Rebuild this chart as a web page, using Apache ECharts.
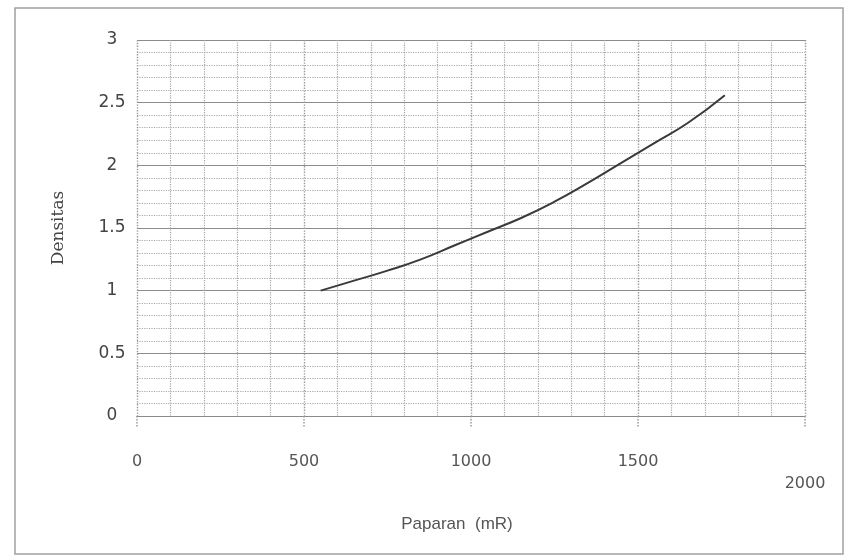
<!DOCTYPE html>
<html>
<head>
<meta charset="utf-8">
<script src="https://cdn.jsdelivr.net/npm/echarts@6/dist/echarts.min.js"></script>
<style>
html,body{margin:0;padding:0;background:#fff;}
#chart{width:846px;height:557px;}
</style>
</head>
<body>
<div id="chart"></div>
<script>
// Data
const exposure = [550, 650, 750, 850, 950, 1050, 1150, 1250, 1350, 1450, 1550, 1650, 1760];
const density  = [1.00, 1.08, 1.16, 1.25, 1.36, 1.47, 1.58, 1.71, 1.86, 2.02, 2.18, 2.34, 2.56];
const xTicks = [0, 500, 1000, 1500, 2000];
const yTicks = [0, 0.5, 1, 1.5, 2, 2.5, 3];
const xName = 'Paparan  (mR)';
const yName = 'Densitas';

const chart = echarts.init(document.getElementById('chart'), null, {renderer: 'canvas'});
const points = exposure.map((x, i) => [x, density[i]]);

chart.setOption({
  animation: false,
  backgroundColor: '#fff',
  graphic: [{
    type: 'rect',
    shape: {x: 15, y: 8, width: 828, height: 546},
    style: {fill: 'none', stroke: '#a0a0a0', lineWidth: 1.5},
    silent: true, z: -10
  }],
  grid: {left: 137, right: 41, top: 40, bottom: 141, containLabel: false},
  xAxis: {
    type: 'value', min: xTicks[0], max: xTicks[xTicks.length - 1], interval: 500,
    name: xName, nameLocation: 'middle', nameGap: 100,
    nameTextStyle: {fontFamily: 'Liberation Sans', fontSize: 17, color: '#555', padding: [0, 28, 0, 0]},
    axisLine: {show: true, lineStyle: {color: '#8a8a8a', width: 1.2}},
    axisTick: {show: true, length: 12, inside: false, lineStyle: {color: '#999', type: 'dotted', width: 1.5}},
    axisLabel: {
      margin: 38, fontFamily: 'DejaVu Sans', fontSize: 16, color: '#555',
      formatter: v => v === 2000 ? '{low|2000}' : String(v),
      rich: {low: {fontFamily: 'DejaVu Sans', fontSize: 16, color: '#555', padding: [22, 0, 0, 0]}}
    },
    splitLine: {show: true, lineStyle: {color: '#9a9a9a', type: 'dotted', width: 1.4}},
    minorTick: {show: false, splitNumber: 5},
    minorSplitLine: {show: true, lineStyle: {color: '#a5a5a5', type: 'dotted', width: 1.2}}
  },
  yAxis: {
    type: 'value', min: yTicks[0], max: yTicks[yTicks.length - 1], interval: 0.5,
    name: yName, nameLocation: 'middle', nameGap: 70, nameRotate: 90,
    nameTextStyle: {fontFamily: 'DejaVu Serif', fontSize: 17, color: '#444'},
    axisLine: {show: false},
    axisTick: {show: false},
    axisLabel: {
      margin: 25, fontFamily: 'DejaVu Sans', fontSize: 17, color: '#444', align: 'center',
      formatter: v => String(v)
    },
    splitLine: {show: true, lineStyle: {color: '#8c8c8c', type: 'solid', width: 1.2}},
    minorTick: {show: false, splitNumber: 5},
    minorSplitLine: {show: true, lineStyle: {color: '#b0a8a8', type: 'dotted', width: 1.2}}
  },
  series: [{
    type: 'line',
    data: points,
    smooth: true,
    showSymbol: false,
    lineStyle: {color: '#3a3a3a', width: 2}
  }]
});
</script>
</body>
</html>
